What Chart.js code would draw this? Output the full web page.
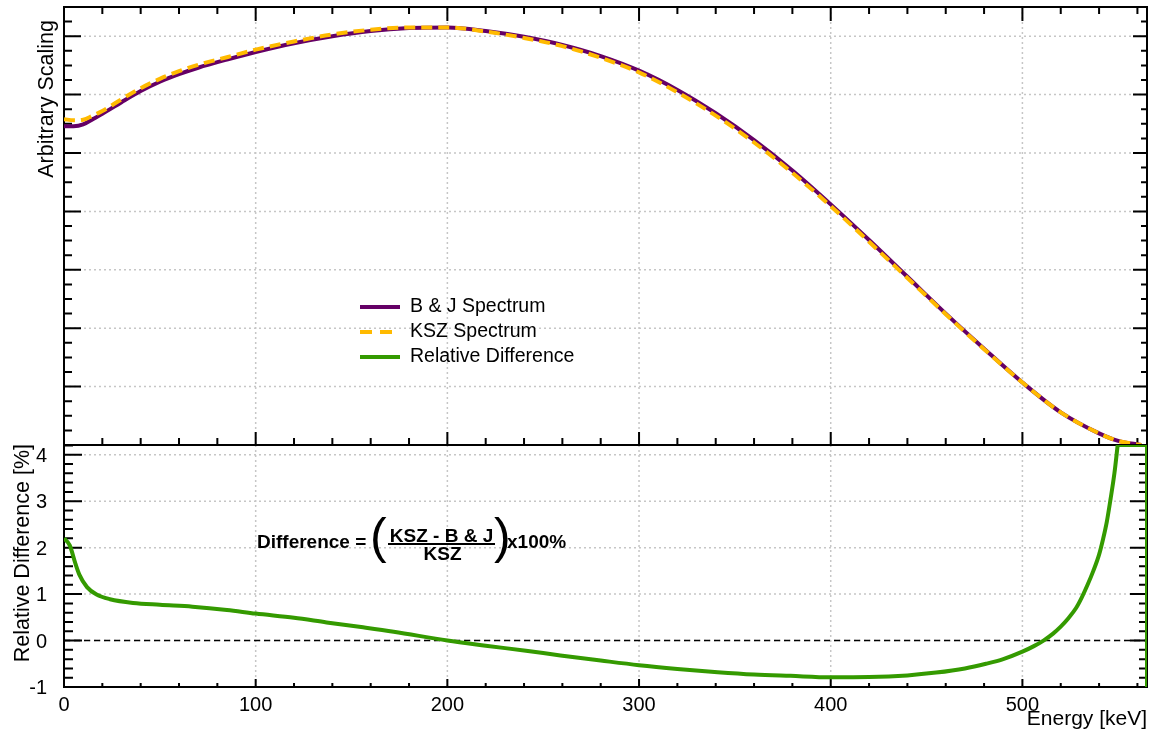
<!DOCTYPE html>
<html>
<head>
<meta charset="utf-8">
<script src="https://cdn.jsdelivr.net/npm/chart.js@4.4.1/dist/chart.umd.min.js"></script>
<style>
  html, body { margin: 0; padding: 0; background: #fff; }
  #wrap { position: relative; width: 1158px; height: 732px; overflow: hidden; }
  #top { position: absolute; left: 0; top: 0; }
  #bottom { position: absolute; left: 0; top: 438px; }
</style>
</head>
<body>
<div id="wrap">
  <canvas id="top" width="1158" height="452"></canvas>
  <canvas id="bottom" width="1158" height="294"></canvas>
</div>
<script>
// spectra (upper pad), arbitrary units
const energy = [0, 5, 10, 15, 20, 30, 40, 50, 60, 70, 85, 100, 120, 140, 160, 180, 200, 220, 240, 260,
  280, 300, 320, 340, 360, 380, 400, 420, 440, 460, 480, 500, 520, 540, 550, 562];
const bjSpectrum = [5.46, 5.46, 5.49, 5.58, 5.67, 5.87, 6.06, 6.22, 6.35, 6.46, 6.60, 6.73, 6.88, 7.00, 7.09, 7.14, 7.15, 7.09, 6.99, 6.85,
  6.66, 6.41, 6.08, 5.68, 5.22, 4.70, 4.12, 3.51, 2.88, 2.25, 1.65, 1.07, 0.56, 0.20, 0.07, 0.0];
const kszSpectrum = [5.58, 5.56, 5.57, 5.64, 5.72, 5.92, 6.11, 6.27, 6.40, 6.51, 6.64, 6.77, 6.91, 7.03, 7.11, 7.15, 7.15, 7.08, 6.97, 6.83,
  6.63, 6.38, 6.04, 5.64, 5.18, 4.66, 4.09, 3.48, 2.86, 2.24, 1.64, 1.07, 0.56, 0.20, 0.07, 0.0];

// relative difference (lower pad), percent
const diffEnergy = [0, 3, 6, 8, 12, 17, 24, 36, 50, 67, 85, 100, 120, 137, 155, 172, 200, 220, 241, 259,
  280, 300, 320, 341, 360, 379, 400, 420, 440, 455, 470, 481, 490, 500, 506, 511, 516, 520, 524, 528,
  531, 534, 537, 540, 542, 544, 546, 548, 549.7];
const relDiff = [2.2, 2.05, 1.65, 1.42, 1.15, 0.99, 0.89, 0.81, 0.77, 0.73, 0.66, 0.58, 0.49, 0.39, 0.29, 0.19, 0.0, -0.11, -0.22, -0.32,
  -0.43, -0.53, -0.61, -0.68, -0.73, -0.76, -0.79, -0.785, -0.75, -0.69, -0.60, -0.50, -0.40, -0.24, -0.12, 0.0, 0.15, 0.3, 0.48, 0.7,
  0.93, 1.2, 1.5, 1.85, 2.17, 2.55, 3.05, 3.6, 4.21];
// curve leaves the pad at the top and comes back down the right edge
const edgeEnergy = [549.7, 565, 565];
const edgeDiff = [4.21, 4.21, -1];

const xTicks = [0, 100, 200, 300, 400, 500];
const diffTicks = [-1, 0, 1, 2, 3, 4];
const legendLabels = ["B & J Spectrum", "KSZ Spectrum", "Relative Difference"];

const purple = "#650066";
const orange = "#ffba00";
const green = "#349a00";
const fontName = "'Liberation Sans', Arial, sans-serif";

function points(xs, ys) {
  return xs.map((x, i) => ({ x: x, y: ys[i] }));
}

function gridLines(ctx, chart, yValues) {
  const a = chart.chartArea;
  ctx.save();
  ctx.strokeStyle = "#c6c6c6";
  ctx.lineWidth = 1.5;
  ctx.setLineDash([2, 3]);
  ctx.beginPath();
  for (const v of xTicks) {
    if (v === 0) continue;
    const px = chart.scales.x.getPixelForValue(v);
    ctx.moveTo(px, a.top);
    ctx.lineTo(px, a.bottom);
  }
  for (const v of yValues) {
    const py = chart.scales.y.getPixelForValue(v);
    ctx.moveTo(a.left, py);
    ctx.lineTo(a.right, py);
  }
  ctx.stroke();
  ctx.restore();
}

function xTickMarks(ctx, scale, y, dir, major, minor) {
  ctx.beginPath();
  for (let v = 0; v <= 565; v += 20) {
    const px = scale.getPixelForValue(v);
    const len = v % 100 === 0 ? major : minor;
    ctx.moveTo(px, y);
    ctx.lineTo(px, y + dir * len);
  }
  ctx.stroke();
}

function yTickMarks(ctx, scale, x, dir, from, to, step, every, major, minor) {
  const n = Math.round((to - from) / step);
  ctx.beginPath();
  for (let i = 0; i <= n; i++) {
    const py = scale.getPixelForValue(from + i * step);
    const len = i % every === 0 ? major : minor;
    ctx.moveTo(x, py);
    ctx.lineTo(x + dir * len, py);
  }
  ctx.stroke();
}

function frame(ctx, a) {
  ctx.strokeStyle = "#000";
  ctx.lineWidth = 2;
  ctx.strokeRect(a.left, a.top, a.right - a.left, a.bottom - a.top);
}

const topDecor = {
  id: "topDecor",
  beforeDatasetsDraw(chart) {
    const ctx = chart.ctx;
    const a = chart.chartArea;
    const x = chart.scales.x;
    const y = chart.scales.y;
    gridLines(ctx, chart, [1, 2, 3, 4, 5, 6, 7]);
    ctx.save();
    frame(ctx, a);
    xTickMarks(ctx, x, a.top, 1, 14, 7);
    xTickMarks(ctx, x, a.bottom, -1, 13, 7);
    yTickMarks(ctx, y, a.left, 1, 0, 7.5, 0.25, 4, 17, 8);
    yTickMarks(ctx, y, a.right, -1, 0, 7.5, 0.25, 4, 14, 6);
    ctx.restore();
  },
  afterDatasetsDraw(chart) {
    const ctx = chart.ctx;

    // y title
    ctx.save();
    ctx.fillStyle = "#000";
    ctx.font = "21.5px " + fontName;
    ctx.translate(53, 20);
    ctx.rotate(-Math.PI / 2);
    ctx.textAlign = "right";
    ctx.textBaseline = "alphabetic";
    ctx.fillText("Arbitrary Scaling", 0, 0);
    ctx.restore();

    // legend
    ctx.save();
    const lx = 360;
    const rows = [307, 332, 357];
    const colors = [purple, orange, green];
    ctx.lineWidth = 4;
    for (let i = 0; i < 3; i++) {
      ctx.strokeStyle = colors[i];
      ctx.setLineDash(i === 1 ? [12, 8] : []);
      ctx.beginPath();
      ctx.moveTo(lx, rows[i]);
      ctx.lineTo(lx + 40, rows[i]);
      ctx.stroke();
    }
    ctx.fillStyle = "#000";
    ctx.font = "19.5px " + fontName;
    ctx.textAlign = "left";
    for (let i = 0; i < 3; i++) {
      ctx.fillText(legendLabels[i], 410, rows[i] + 5);
    }
    ctx.restore();
  }
};

const bottomDecor = {
  id: "bottomDecor",
  beforeDatasetsDraw(chart) {
    const ctx = chart.ctx;
    const a = chart.chartArea;
    const x = chart.scales.x;
    const y = chart.scales.y;
    gridLines(ctx, chart, [0, 1, 2, 3, 4]);
    const y0 = y.getPixelForValue(0);
    ctx.save();
    ctx.strokeStyle = "#000";
    ctx.lineWidth = 1.5;
    ctx.setLineDash([6, 4]);
    ctx.beginPath();
    ctx.moveTo(a.left, y0);
    ctx.lineTo(a.right, y0);
    ctx.stroke();
    ctx.setLineDash([]);
    frame(ctx, a);
    xTickMarks(ctx, x, a.bottom, -1, 8, 4);
    yTickMarks(ctx, y, a.left, 1, -1, 4.2, 0.2, 5, 18, 9);
    yTickMarks(ctx, y, a.right, -1, -1, 4.2, 0.2, 5, 17, 8);
    ctx.restore();
  },
  afterDatasetsDraw(chart) {
    const ctx = chart.ctx;
    const a = chart.chartArea;
    const x = chart.scales.x;
    const y = chart.scales.y;
    ctx.save();
    ctx.fillStyle = "#000";
    ctx.font = "20px " + fontName;
    ctx.textAlign = "center";
    for (const v of xTicks) {
      ctx.fillText(String(v), x.getPixelForValue(v), a.bottom + 24);
    }
    ctx.textAlign = "right";
    for (const v of diffTicks) {
      ctx.fillText(String(v), a.left - 17, y.getPixelForValue(v) + 7);
    }

    ctx.font = "21px " + fontName;
    ctx.fillText("Energy [keV]", a.right, a.bottom + 38);

    // formula
    const t = a.top;
    ctx.font = "bold 19px " + fontName;
    ctx.textAlign = "left";
    ctx.fillText("Difference =", 257, t + 103);
    ctx.fillText("x100%", 507, t + 103);
    ctx.textAlign = "center";
    ctx.fillText("KSZ - B & J", 441.5, t + 96.5);
    ctx.fillText("KSZ", 442.5, t + 115);
    ctx.fillRect(388, t + 98, 107, 2);
    ctx.textAlign = "left";
    ctx.font = "50px " + fontName;
    ctx.fillText("(", 370, t + 108);
    ctx.fillText(")", 494, t + 108);

    // y title
    ctx.font = "21.5px " + fontName;
    ctx.translate(29, t - 1);
    ctx.rotate(-Math.PI / 2);
    ctx.textAlign = "right";
    ctx.fillText("Relative Difference [%]", 0, 0);
    ctx.restore();
  }
};

const baseOptions = {
  responsive: false,
  animation: false,
  plugins: { legend: { display: false }, tooltip: { enabled: false } },
  elements: { point: { radius: 0 } }
};

new Chart(document.getElementById("top").getContext("2d"), {
  type: "line",
  data: {
    datasets: [
      {
        label: legendLabels[0],
        data: points(energy, bjSpectrum),
        borderColor: purple,
        borderWidth: 4,
        cubicInterpolationMode: "monotone",
        order: 2
      },
      {
        label: legendLabels[1],
        data: points(energy, kszSpectrum),
        borderColor: orange,
        borderWidth: 4,
        borderDash: [11, 6],
        cubicInterpolationMode: "monotone",
        order: 1
      }
    ]
  },
  options: {
    ...baseOptions,
    layout: { padding: { left: 64, right: 11, top: 7, bottom: 7 } },
    scales: {
      x: { type: "linear", min: 0, max: 565, display: false },
      y: { type: "linear", min: 0, max: 7.5, display: false }
    }
  },
  plugins: [topDecor]
});

new Chart(document.getElementById("bottom").getContext("2d"), {
  type: "line",
  data: {
    datasets: [
      {
        label: legendLabels[2],
        data: points(diffEnergy, relDiff),
        borderColor: green,
        borderWidth: 4,
        cubicInterpolationMode: "monotone"
      },
      {
        label: "edge",
        data: points(edgeEnergy, edgeDiff),
        borderColor: green,
        borderWidth: 4,
        tension: 0
      }
    ]
  },
  options: {
    ...baseOptions,
    layout: { padding: { left: 64, right: 11, top: 7, bottom: 45 } },
    scales: {
      x: { type: "linear", min: 0, max: 565, display: false },
      y: { type: "linear", min: -1, max: 4.21, display: false }
    }
  },
  plugins: [bottomDecor]
});
</script>
</body>
</html>
